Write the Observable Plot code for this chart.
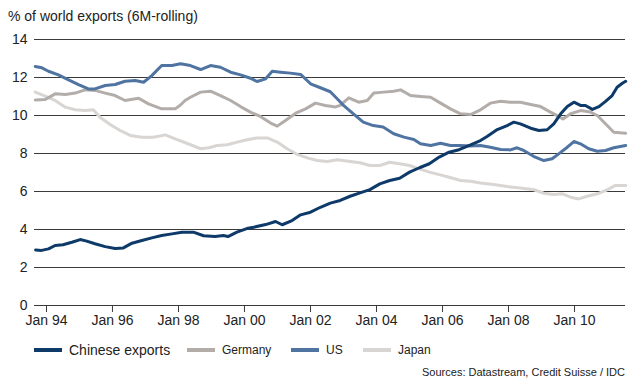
<!DOCTYPE html>
<html>
<head>
<meta charset="utf-8">
<script src="https://cdn.jsdelivr.net/npm/d3@7"></script>
<script src="https://cdn.jsdelivr.net/npm/@observablehq/plot@0.6"></script>
<style>
  body { margin: 0; background: #fff; font-family: "Liberation Sans", Arial, sans-serif; color: #222; }
  #wrap { width: 640px; height: 387px; position: relative; overflow: hidden; }
  #title { height: 30px; box-sizing: border-box; padding: 8px 0 0 8px; font-size: 14px; line-height: 16px; color: #222; }
  #chart svg { display: block; }
  #legend { position: relative; height: 20px; }
  .item { position: absolute; top: 0; height: 20px; display: flex; align-items: center; white-space: nowrap; }
  .sw { width: 28px; height: 4px; margin-right: 7px; }
  #source { height: 27px; box-sizing: border-box; padding: 5px 15px 0 0; text-align: right; font-size: 11px; line-height: 14px; color: #222; }
</style>
</head>
<body>
<div id="wrap">
  <div id="title">% of world exports (6M-rolling)</div>
  <div id="chart"></div>
  <div id="legend"></div>
  <div id="source">Sources: Datastream, Credit Suisse / IDC</div>
</div>
<script>
// ---- Data (decimal years, % of world exports) ----
const chinaYears = [1993.67,1993.85,1994.06,1994.26,1994.5,1994.77,1995.02,1995.22,1995.47,1995.78,1996.08,1996.33,1996.59,1996.89,1997.19,1997.49,1997.8,1998.1,1998.45,1998.76,1999.11,1999.36,1999.5,1999.77,2000.07,2000.28,2000.64,2000.94,2001.14,2001.44,2001.7,2002.0,2002.3,2002.6,2002.9,2003.2,2003.5,2003.8,2004.1,2004.4,2004.7,2005.0,2005.3,2005.6,2005.9,2006.2,2006.5,2006.85,2007.15,2007.35,2007.66,2007.96,2008.16,2008.36,2008.67,2008.92,2009.17,2009.37,2009.58,2009.78,2009.98,2010.18,2010.33,2010.54,2010.74,2010.94,2011.14,2011.29,2011.45,2011.55];
const chinaValues = [2.92,2.90,2.98,3.16,3.2,3.33,3.47,3.39,3.25,3.1,3.0,3.03,3.28,3.42,3.56,3.68,3.77,3.86,3.86,3.67,3.63,3.68,3.63,3.86,4.05,4.12,4.26,4.42,4.25,4.47,4.77,4.91,5.17,5.39,5.53,5.75,5.93,6.1,6.4,6.58,6.7,7.02,7.25,7.46,7.81,8.07,8.2,8.45,8.68,8.89,9.26,9.47,9.65,9.56,9.33,9.21,9.25,9.56,10.09,10.47,10.7,10.53,10.53,10.32,10.47,10.74,11.05,11.49,11.7,11.8];

const usYears = [1993.66,1993.86,1994.06,1994.36,1994.67,1994.97,1995.27,1995.47,1995.78,1996.08,1996.38,1996.69,1996.94,1997.19,1997.49,1997.8,1998.06,1998.36,1998.67,1998.97,1999.27,1999.58,1999.88,2000.18,2000.38,2000.64,2000.84,2001.09,2001.39,2001.7,2002.0,2002.3,2002.6,2002.86,2003.0,2003.3,2003.6,2003.9,2004.2,2004.52,2004.83,2005.13,2005.33,2005.64,2005.94,2006.24,2006.55,2006.85,2007.15,2007.45,2007.76,2008.06,2008.26,2008.46,2008.77,2009.07,2009.32,2009.52,2009.78,2009.98,2010.18,2010.43,2010.69,2010.94,2011.19,2011.55];
const usValues = [12.58,12.51,12.33,12.14,11.88,11.63,11.4,11.4,11.58,11.63,11.8,11.84,11.75,12.1,12.63,12.63,12.72,12.63,12.42,12.63,12.54,12.28,12.14,11.96,11.79,11.93,12.33,12.28,12.23,12.16,11.67,11.46,11.25,10.79,10.53,10.09,9.65,9.47,9.39,9.04,8.86,8.74,8.51,8.42,8.54,8.42,8.42,8.39,8.42,8.33,8.21,8.19,8.3,8.16,7.84,7.63,7.72,7.98,8.33,8.63,8.51,8.25,8.12,8.16,8.3,8.42];

const germanyYears = [1993.66,1993.96,1994.26,1994.57,1994.87,1995.17,1995.47,1995.78,1996.08,1996.38,1996.79,1997.09,1997.49,1997.9,1998.06,1998.2,1998.36,1998.67,1998.97,1999.27,1999.58,1999.88,2000.18,2000.48,2000.79,2000.99,2001.24,2001.55,2001.85,2002.15,2002.45,2002.76,2002.9,2003.16,2003.46,2003.72,2003.92,2004.22,2004.52,2004.73,2005.03,2005.33,2005.64,2005.94,2006.24,2006.55,2006.85,2007.15,2007.45,2007.76,2008.06,2008.36,2008.67,2008.97,2009.27,2009.65,2009.88,2010.18,2010.48,2010.69,2010.99,2011.19,2011.55];
const germanyValues = [10.82,10.84,11.14,11.1,11.18,11.35,11.32,11.18,11.05,10.79,10.91,10.61,10.35,10.35,10.55,10.79,10.96,11.23,11.28,11.05,10.79,10.47,10.18,9.95,9.6,9.44,9.74,10.12,10.35,10.65,10.53,10.45,10.53,10.93,10.7,10.79,11.18,11.23,11.28,11.35,11.05,11.0,10.96,10.65,10.35,10.09,10.05,10.3,10.65,10.75,10.7,10.7,10.58,10.47,10.18,9.82,10.09,10.26,10.18,10.0,9.47,9.12,9.07];

const japanYears = [1993.66,1993.96,1994.26,1994.57,1994.87,1995.17,1995.42,1995.62,1995.93,1996.23,1996.54,1996.89,1997.24,1997.6,1997.9,1998.25,1998.67,1998.92,1999.17,1999.48,1999.78,2000.08,2000.38,2000.69,2000.99,2001.29,2001.6,2001.9,2002.2,2002.51,2002.81,2003.2,2003.5,2003.8,2004.1,2004.4,2004.7,2005.0,2005.3,2005.6,2005.9,2006.2,2006.55,2006.85,2007.15,2007.55,2007.96,2008.36,2008.77,2009.07,2009.37,2009.63,2009.88,2010.13,2010.38,2010.69,2010.99,2011.24,2011.55];
const japanValues = [11.23,11.02,10.79,10.44,10.3,10.26,10.3,9.91,9.53,9.21,8.95,8.86,8.86,8.98,8.77,8.54,8.25,8.3,8.42,8.46,8.6,8.72,8.82,8.82,8.6,8.25,7.95,7.77,7.63,7.58,7.67,7.58,7.51,7.37,7.37,7.54,7.46,7.37,7.19,7.02,6.89,6.75,6.58,6.54,6.45,6.37,6.26,6.19,6.09,5.91,5.84,5.88,5.7,5.61,5.75,5.88,6.09,6.32,6.32];

const seriesNames = ["Chinese exports", "Germany", "US", "Japan"];
const yTicks = [0, 2, 4, 6, 8, 10, 12, 14];
const xTickYears = [1994, 1996, 1998, 2000, 2002, 2004, 2006, 2008, 2010];
const xTickLabels = ["Jan 94", "Jan 96", "Jan 98", "Jan 00", "Jan 02", "Jan 04", "Jan 06", "Jan 08", "Jan 10"];
const xDomainYears = [1993.636, 2011.545];

// ---- Helpers ----
function toDate(y) {
  const yr = Math.floor(y);
  const start = Date.UTC(yr, 0, 1), end = Date.UTC(yr + 1, 0, 1);
  return new Date(start + (y - yr) * (end - start));
}
function rows(years, values, name) {
  return years.map((y, i) => ({date: toDate(y), value: values[i], series: name}));
}
const colors = {"Chinese exports": "#0d3a68", "Germany": "#b3adaa", "US": "#4f74a2", "Japan": "#d8d5d3"};

const data = {
  "Chinese exports": rows(chinaYears, chinaValues, "Chinese exports"),
  "Germany": rows(germanyYears, germanyValues, "Germany"),
  "US": rows(usYears, usValues, "US"),
  "Japan": rows(japanYears, japanValues, "Japan")
};
const xTicks = xTickYears.map(y => toDate(y));
const labelFor = new Map(xTicks.map((d, i) => [+d, xTickLabels[i]]));

const chart = Plot.plot({
  width: 640,
  height: 310,
  marginLeft: 34,
  marginRight: 15,
  marginTop: 9,
  marginBottom: 35,
  style: {fontFamily: "'Liberation Sans', Arial, sans-serif", fontSize: "14px", color: "#222", background: "transparent", overflow: "visible"},
  x: {type: "utc", domain: xDomainYears.map(toDate)},
  y: {domain: [0, 14]},
  marks: [
    Plot.ruleY(yTicks, {stroke: "#3a3a3a", strokeWidth: 1.1}),
    Plot.axisY({ticks: yTicks, tickSize: 0, tickPadding: 7, label: null, fontSize: 14}),
    Plot.axisX({ticks: xTicks, tickSize: 7, tickPadding: 3, label: null, fontSize: 14, stroke: "#3a3a3a",
                tickFormat: d => labelFor.get(+d)}),
    Plot.lineY(data["Japan"], {x: "date", y: "value", stroke: colors["Japan"], strokeWidth: 3}),
    Plot.lineY(data["Germany"], {x: "date", y: "value", stroke: colors["Germany"], strokeWidth: 3}),
    Plot.lineY(data["US"], {x: "date", y: "value", stroke: colors["US"], strokeWidth: 3}),
    Plot.lineY(data["Chinese exports"], {x: "date", y: "value", stroke: colors["Chinese exports"], strokeWidth: 3})
  ]
});
document.getElementById("chart").appendChild(chart);

// ---- Legend ----
const legendPos = {"Chinese exports": 34, "Germany": 187, "US": 291, "Japan": 363};
const legendSize = {"Chinese exports": 14, "Germany": 12, "US": 12, "Japan": 12};
const legend = document.getElementById("legend");
seriesNames.forEach(name => {
  const it = document.createElement("div");
  it.className = "item";
  it.style.left = legendPos[name] + "px";
  const sw = document.createElement("span");
  sw.className = "sw";
  sw.style.background = colors[name];
  const tx = document.createElement("span");
  tx.textContent = name;
  tx.style.fontSize = legendSize[name] + "px";
  it.appendChild(sw);
  it.appendChild(tx);
  legend.appendChild(it);
});
</script>
</body>
</html>
